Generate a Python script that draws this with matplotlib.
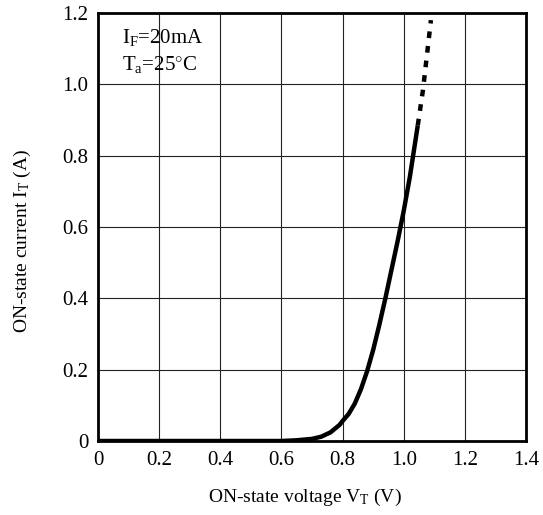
import matplotlib
matplotlib.use("Agg")
import matplotlib.pyplot as plt

plt.rcParams['font.family'] = ['Liberation Serif', 'DejaVu Serif']
plt.rcParams['mathtext.fontset'] = 'custom'
plt.rcParams['mathtext.rm'] = 'Liberation Serif'
plt.rcParams['mathtext.it'] = 'Liberation Serif:italic'

# solid part of the curve
v_solid = [0, 0.5, 0.6, 0.65, 0.70, 0.73, 0.76, 0.79, 0.80, 0.82, 0.84, 0.86, 0.88,
           0.90, 0.92, 0.94, 0.96, 0.98, 1.00, 1.02, 1.046]
i_solid = [0, 0, 0.0, 0.002, 0.006, 0.012, 0.024, 0.045, 0.056, 0.076, 0.105, 0.145, 0.195,
           0.255, 0.325, 0.40, 0.48, 0.56, 0.645, 0.74, 0.885]
# dashed extrapolation
v_dash = [1.046, 1.063, 1.089]
i_dash = [0.885, 0.984, 1.18]

x_ticks = [0, 0.2, 0.4, 0.6, 0.8, 1.0, 1.2, 1.4]
x_labels = ['0', '0.2', '0.4', '0.6', '0.8', '1.0', '1.2', '1.4']
y_ticks = [0, 0.2, 0.4, 0.6, 0.8, 1.0, 1.2]
y_labels = ['0', '0.2', '0.4', '0.6', '0.8', '1.0', '1.2']

fig = plt.figure(figsize=(5.43, 5.15), dpi=100, facecolor='white')
ax = fig.add_axes([98/543, 1-441/515, 428/543, 428/515])

ax.plot(v_solid, i_solid, color='black', lw=3.2, solid_joinstyle='round', solid_capstyle='butt')
ax.plot(v_dash, i_dash, color='black', lw=3.2, dashes=(1.5, 1.8))

ax.set_xlim(0, 1.4)
ax.set_ylim(0, 1.2)
ax.set_xticks(x_ticks)
ax.set_xticklabels(x_labels)
ax.set_yticks(y_ticks)
ax.set_yticklabels(y_labels)
ax.tick_params(axis='y', length=0, labelsize=15, pad=7)
ax.tick_params(axis='x', length=0, labelsize=15, pad=7)
ax.grid(True, color='#222222', lw=0.8)
for s in ax.spines.values():
    s.set_linewidth(2)

fig.text(305/543, 1-497/515, 'ON-state voltage V$_\\mathrm{T}$ (V)', fontsize=14,
         ha='center', va='center')
fig.text(22/543, 1-241/515, 'ON-state current I$_\\mathrm{T}$ (A)', fontsize=14,
         ha='center', va='center', rotation=90)

ax.text(0.08, 1.13, 'I$_\\mathrm{F}$=20mA', fontsize=15, va='center')
ax.text(0.08, 1.055, 'T$_\\mathrm{a}$=25$^{\\circ}$C', fontsize=15, va='center')

fig.savefig('out.png', dpi=100)
